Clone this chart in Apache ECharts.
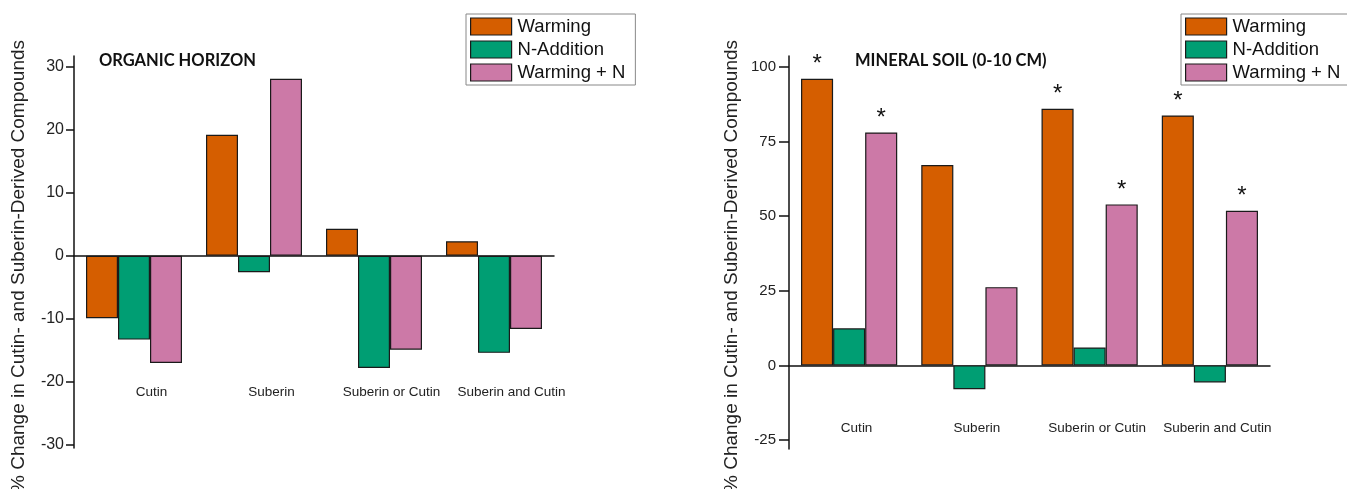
<!DOCTYPE html>
<html>
<head>
<meta charset="utf-8">
<script src="https://cdn.jsdelivr.net/npm/echarts@6/dist/echarts.min.js"></script>
<style>
  html, body { margin: 0; padding: 0; background: #fff; }
  #chart { width: 1347px; height: 489px; }
</style>
</head>
<body>
<div id="chart"></div>
<script>
// Compound groups shared by both panels
const categories = ['Cutin', 'Suberin', 'Suberin or Cutin', 'Suberin and Cutin'];
const seriesNames = ['Warming', 'N-Addition', 'Warming + N'];

// Organic horizon: % change per treatment
const organicWarming = [-9.9, 19.2, 4.3, 2.3];
const organicN = [-13.3, -2.6, -17.8, -15.4];
const organicWN = [-17.0, 28.1, -14.9, -11.6];

// Mineral soil (0-10 cm): % change per treatment
const mineralWarming = [96.0, 67.1, 85.9, 83.7];
const mineralN = [12.4, -8.0, 6.0, -5.7];
const mineralWN = [78.0, 26.2, 53.9, 51.8];

// Significant effects (marked with *)
const mineralWarmingSig = [true, false, true, true];
const mineralNSig = [false, false, false, false];
const mineralWNSig = [true, false, true, true];

// Tick labels
const organicTicks = [-30, -20, -10, 0, 10, 20, 30];
const mineralTicks = [-25, 0, 25, 50, 75, 100];

const colors = ['#D55E00', '#009E73', '#CC79A7'];
const FONT = '"Liberation Sans", Arial, sans-serif';
const TITLE_FONT = 'Lato, "Open Sans", sans-serif';
const yTitle = '% Change in Cutin- and Suberin-Derived Compounds';

function barData(values, sig) {
  return values.map((v, i) => ({
    value: v,
    label: { show: !!(sig && sig[i]) }
  }));
}

function makeBar(name, values, sig, idx, color) {
  return {
    name: name,
    type: 'bar',
    xAxisIndex: idx,
    yAxisIndex: idx,
    data: barData(values, sig),
    barGap: '0%',
    barCategoryGap: '20%',
    itemStyle: { color: color, borderColor: '#1a1a1a', borderWidth: 1.2 },
    label: {
      show: false,
      position: 'top',
      distance: 2,
      formatter: '*',
      fontFamily: FONT,
      fontSize: 24,
      color: '#111'
    },
    emphasis: { disabled: true }
  };
}

function makeLegend(left) {
  return {
    data: seriesNames,
    orient: 'vertical',
    left: left,
    top: 14,
    icon: 'rect',
    itemWidth: 41,
    itemHeight: 17,
    itemGap: 4,
    padding: [3, 10, 3, 4],
    borderColor: '#888',
    borderWidth: 1,
    backgroundColor: '#fff',
    selectedMode: false,
    textStyle: { fontFamily: FONT, fontSize: 18.5, color: '#111', padding: [0, 0, 0, 1] },
    itemStyle: { borderColor: '#1a1a1a', borderWidth: 1.2 }
  };
}

function makeY(idx, min, max, ticks, fontSize, margin, tickLen) {
  return {
    type: 'value',
    gridIndex: idx,
    min: min,
    max: max,
    splitLine: { show: false },
    axisLine: { show: true, lineStyle: { color: '#111', width: 1.5 } },
    axisTick: { show: true, length: tickLen, customValues: ticks, lineStyle: { color: '#111', width: 1.5 } },
    axisLabel: { customValues: ticks, fontFamily: FONT, fontSize: fontSize, color: '#222', margin: margin }
  };
}

// Category labels sit at a fixed height inside the plot area, below the bars,
// nudged a little to the right of each bar group
function makeX(idx, margin, shift) {
  return {
    type: 'category',
    gridIndex: idx,
    data: categories,
    axisLine: { onZero: true, lineStyle: { color: '#111', width: 1.5 } },
    axisTick: { show: false },
    axisLabel: {
      fontFamily: FONT, fontSize: 13.5, color: '#222',
      margin: margin, interval: 0, padding: [0, 0, 0, shift * 2]
    }
  };
}

const chart = echarts.init(document.getElementById('chart'), null, { renderer: 'canvas' });

chart.setOption({
  animation: false,
  backgroundColor: '#fff',
  color: colors,
  grid: [
    { left: 74, width: 480, top: 56, bottom: 41, outerBoundsMode: 'none', containLabel: false },
    { left: 789, width: 481, top: 56, bottom: 40, outerBoundsMode: 'none', containLabel: false }
  ],
  title: [
    { text: 'ORGANIC HORIZON', left: 99, top: 52, padding: 0,
      textStyle: { fontFamily: TITLE_FONT, fontWeight: 'bold', fontSize: 16.5, color: '#111' } },
    { text: 'MINERAL SOIL (0-10 CM)', left: 855, top: 52, padding: 0,
      textStyle: { fontFamily: TITLE_FONT, fontWeight: 'bold', fontSize: 16.5, color: '#111' } }
  ],
  legend: [makeLegend(466), makeLegend(1181)],
  xAxis: [makeX(0, -63, 17.5), makeX(1, -28, 7.5)],
  yAxis: [
    makeY(0, -30.5, 31.7, organicTicks, 16, 10, 8),
    makeY(1, -28, 103.6, mineralTicks, 15, 13, 10)
  ],
  graphic: [
    { type: 'text', x: 19, y: 266, rotation: Math.PI / 2,
      style: { text: yTitle, fontFamily: FONT, fontSize: 19, fill: '#222', align: 'center', verticalAlign: 'middle' } },
    { type: 'text', x: 732, y: 266, rotation: Math.PI / 2,
      style: { text: yTitle, fontFamily: FONT, fontSize: 19, fill: '#222', align: 'center', verticalAlign: 'middle' } }
  ],
  series: [
    makeBar(seriesNames[0], organicWarming, null, 0, colors[0]),
    makeBar(seriesNames[1], organicN, null, 0, colors[1]),
    makeBar(seriesNames[2], organicWN, null, 0, colors[2]),
    makeBar(seriesNames[0], mineralWarming, mineralWarmingSig, 1, colors[0]),
    makeBar(seriesNames[1], mineralN, mineralNSig, 1, colors[1]),
    makeBar(seriesNames[2], mineralWN, mineralWNSig, 1, colors[2])
  ]
});
</script>
</body>
</html>
